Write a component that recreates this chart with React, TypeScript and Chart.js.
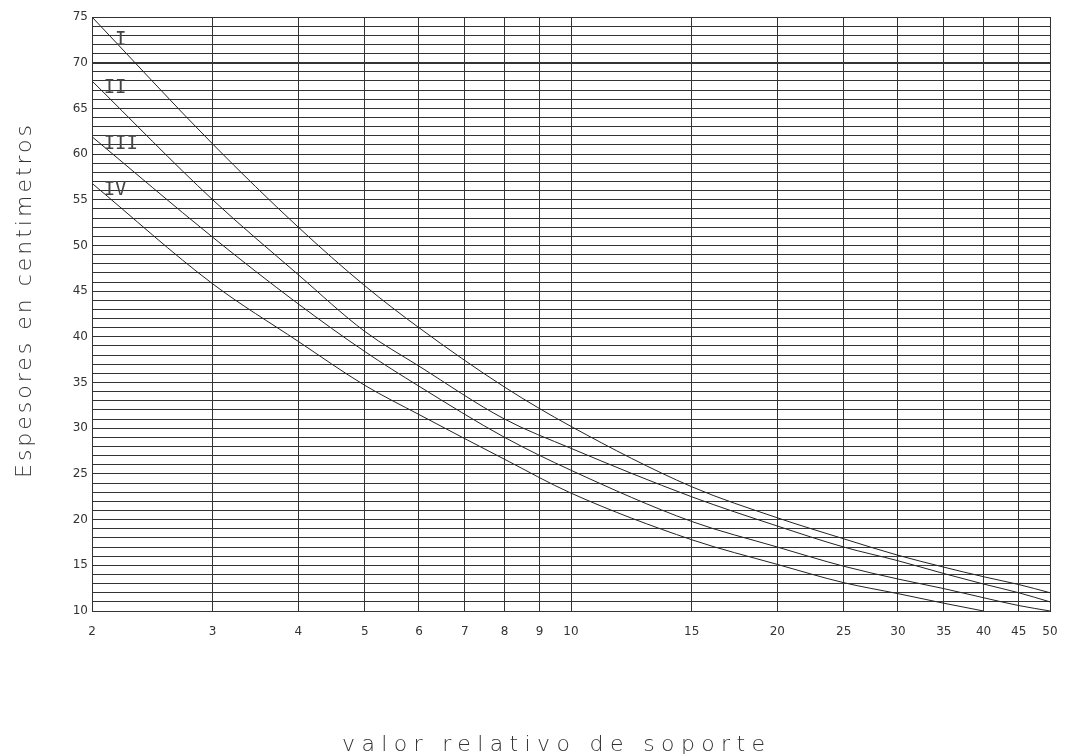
import React, { useEffect, useRef } from "react";
import { Chart, registerables } from "chart.js";

Chart.register(...registerables);

// x positions (valor relativo de soporte) where the curves were read
const xSample = [2, 3, 4, 5, 6, 8, 10, 15, 20, 25, 30, 35, 40, 45, 50];
// Curves I..IV: espesor (cm) read at each xSample (null = curve ended)
const curveI = [75, 61.1, 52.0, 45.6, 41.0, 34.5, 30.2, 23.6, 20.2, 17.9, 16.1, 14.8, 13.75, 12.9, 12.0];
const curveII = [68, 55.0, 46.8, 40.6, 36.8, 31.0, 27.8, 22.5, 19.3, 17.0, 15.5, 14.1, 12.95, 12.0, 11.0];
const curveIII = [61.9, 50.9, 43.6, 38.4, 34.6, 29.0, 25.4, 19.8, 17.0, 14.9, 13.5, 12.45, 11.45, 10.6, 10.0];
const curveIV = [56.8, 45.8, 39.5, 34.7, 31.5, 26.6, 22.9, 17.8, 15.1, 13.1, 11.9, 10.85, 10.0, null, null];

// x-axis tick labels
const xTicks = [2, 3, 4, 5, 6, 7, 8, 9, 10, 15, 20, 25, 30, 35, 40, 45, 50];
const yMin = 10;
const yMax = 75;
const yLabelEvery = 5;
const yHeavyLine = 70;

// curve name labels and their anchor (data units)
const curveNames = ["I", "II", "III", "IV"];
const nameX = [2.16, 2.08, 2.08, 2.08];
const nameY = [72.45, 67.2, 61.1, 56.1];

const xTitle = "valor relativo de soporte";
const yTitle = "Espesores en centimetros";

const INK = "#333333";

function toPoints(values: (number | null)[]) {
  const pts: { x: number; y: number }[] = [];
  values.forEach((v, i) => {
    if (v !== null) pts.push({ x: xSample[i], y: v });
  });
  return pts;
}

function drawSpaced(ctx: CanvasRenderingContext2D, text: string, target: number) {
  (ctx as any).letterSpacing = "0px";
  const w = ctx.measureText(text).width;
  const ls = (target - w) / (text.length - 1);
  (ctx as any).letterSpacing = ls + "px";
  ctx.fillText(text, 0, 0);
  (ctx as any).letterSpacing = "0px";
}

const overlayPlugin = {
  id: "overlay",
  afterDatasetsDraw(chart: any) {
    const { ctx, chartArea } = chart;
    const x = chart.scales.x;
    const y = chart.scales.y;
    ctx.save();
    ctx.fillStyle = "#444444";
    ctx.textAlign = "left";
    ctx.textBaseline = "middle";
    ctx.font = '19px "DejaVu Sans Mono"';
    curveNames.forEach((t, i) => {
      ctx.fillText(t, x.getPixelForValue(nameX[i]), y.getPixelForValue(nameY[i]));
    });

    ctx.fillStyle = INK;
    ctx.textBaseline = "alphabetic";
    ctx.font = '200 22px "DejaVu Sans"';
    // x title
    ctx.save();
    ctx.translate(chartArea.left + 250, chart.height - 3);
    drawSpaced(ctx, xTitle, 423);
    ctx.restore();
    // y title
    ctx.save();
    ctx.translate(31, chartArea.top + 461);
    ctx.rotate(-Math.PI / 2);
    drawSpaced(ctx, yTitle, 353);
    ctx.restore();
    ctx.restore();
  },
};

export default function App() {
  const ref = useRef<HTMLCanvasElement | null>(null);

  useEffect(() => {
    if (!ref.current) return;
    const series = [curveI, curveII, curveIII, curveIV];
    const chart = new Chart(ref.current, {
      type: "line",
      data: {
        datasets: series.map((s, i) => ({
          label: curveNames[i],
          data: toPoints(s),
          borderColor: "#222222",
          borderWidth: 1,
          pointRadius: 0,
          fill: false,
          cubicInterpolationMode: "monotone" as const,
        })),
      },
      options: {
        animation: false,
        responsive: false,
        devicePixelRatio: 1,
        layout: { padding: { left: 32, right: 17, top: 17, bottom: 113 } },
        plugins: {
          legend: { display: false },
          tooltip: { enabled: false },
          title: { display: false },
        },
        scales: {
          x: {
            type: "logarithmic",
            min: 2,
            max: 50,
            afterBuildTicks: (axis: any) => {
              axis.ticks = xTicks.map((v) => ({ value: v }));
            },
            afterFit: (scale: any) => {
              scale.height = 30;
              scale.paddingLeft = 0;
              scale.paddingRight = 0;
            },
            ticks: {
              autoSkip: false,
              maxRotation: 0,
              padding: 14,
              color: INK,
              font: { family: '"DejaVu Sans"', size: 12 },
              callback: (v: any) => String(v),
            },
            grid: { color: INK, lineWidth: 1, drawTicks: false },
            border: { display: true, color: INK, width: 1 },
          },
          y: {
            type: "linear",
            min: yMin,
            max: yMax,
            afterFit: (scale: any) => {
              scale.width = 60;
              scale.paddingTop = 0;
              scale.paddingBottom = 0;
            },
            ticks: {
              stepSize: 1,
              autoSkip: false,
              padding: 4,
              color: INK,
              font: { family: '"DejaVu Sans"', size: 12 },
              callback: (v: any) => (Number(v) % yLabelEvery === 0 ? String(v) : ""),
            },
            grid: {
              color: INK,
              drawTicks: false,
              lineWidth: (c: any) => (c.tick && c.tick.value === yHeavyLine ? 2 : 1),
            },
            border: { display: true, color: INK, width: 1 },
          },
        },
      },
      plugins: [
        overlayPlugin,
        {
          id: "frame",
          afterDraw(chart: any) {
            const { ctx, chartArea: a } = chart;
            ctx.save();
            ctx.strokeStyle = INK;
            ctx.lineWidth = 1;
            ctx.strokeRect(Math.round(a.left) + 0.5, Math.round(a.top) + 0.5, Math.round(a.right - a.left), Math.round(a.bottom - a.top));
            ctx.restore();
          },
        },
      ],
    } as any);
    return () => chart.destroy();
  }, []);

  return (
    <div style={{ position: "fixed", left: 0, top: 0, width: 1067, height: 754, background: "#fff" }}>
      <canvas ref={ref} width={1067} height={754} style={{ display: "block" }} />
    </div>
  );
}
